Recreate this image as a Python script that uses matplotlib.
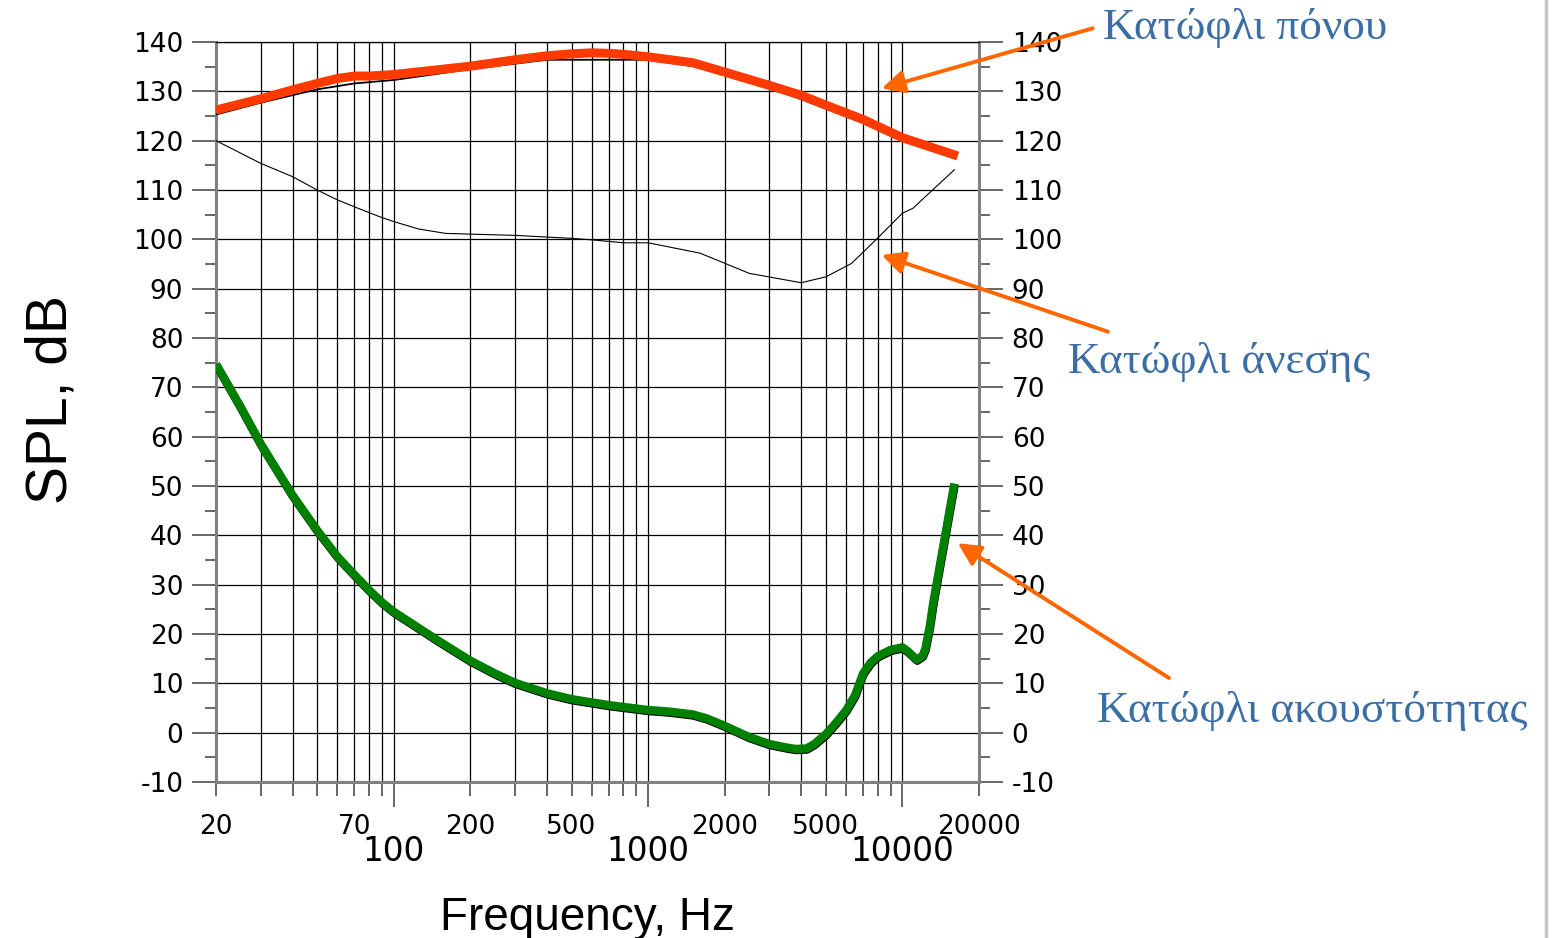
import numpy as np
import matplotlib
matplotlib.use('Agg')
import matplotlib.pyplot as plt
from matplotlib import patheffects
from matplotlib.lines import Line2D
from matplotlib.ticker import FixedLocator, FixedFormatter

plt.rcParams['axes.unicode_minus'] = False

# Pain threshold (thick red overlay and the thin black original below it)
pain_f = [20, 30, 40, 50, 60, 70, 80, 100, 200, 300, 400, 500, 600, 700,
          800, 1000, 1500, 2000, 3000, 4000, 5000, 7000, 10000, 16500]
pain_db = [126.2, 128.5, 130.3, 131.6, 132.6, 133.1, 133.1, 133.4, 135.1,
           136.4, 137.2, 137.6, 137.8, 137.7, 137.5, 137.0, 135.8, 133.9,
           131.2, 129.2, 127.2, 124.3, 120.6, 116.9]
pain_orig_f = [20, 30, 50, 70, 100, 200, 400, 1000, 1500, 2000, 3000, 4000,
               5000, 7000, 10000, 16000]
pain_orig_db = [125.3, 127.7, 130.4, 131.6, 132.3, 134.5, 136.4, 136.4,
                135.1, 133.4, 130.7, 128.4, 126.5, 123.6, 119.9, 117.0]

# Comfort threshold (thin black)
comfort_f = [20, 30, 40, 50, 60, 70, 80, 90, 100, 125, 160, 300, 500, 600,
             800, 1000, 1600, 2500, 4000, 5000, 6300, 7900, 10000, 11000, 16000]
comfort_db = [120, 115.4, 112.7, 110, 108, 106.6, 105.4, 104.4, 103.6, 102.1,
              101.2, 100.8, 100.2, 99.9, 99.3, 99.3, 97.2, 93.1, 91.2, 92.4,
              95.1, 100, 105.3, 106.3, 114.1]

# Hearing threshold (thick green)
hear_f = [20, 25, 30, 40, 50, 60, 70, 80, 90, 100, 150, 200, 250, 300, 400,
          500, 700, 1000, 1200, 1500, 1700, 2000, 2500, 3000, 3500, 3800,
          4200, 4500, 5000, 5500, 6000, 6500, 7000, 7500, 8000, 9000, 10000,
          10500, 11400, 12000, 12300, 12800, 13200, 16000]
hear_db = [74.7, 66.0, 58.5, 48.1, 41.0, 35.7, 32.0, 28.9, 26.4, 24.5, 18.6,
           14.6, 12.0, 10.1, 8.0, 6.8, 5.6, 4.6, 4.3, 3.7, 2.9, 1.4, -0.9,
           -2.3, -3.0, -3.3, -3.2, -2.3, -0.3, 2.1, 4.5, 7.5, 12.0, 14.2,
           15.5, 16.8, 17.3, 16.5, 14.8, 15.6, 17.0, 21.5, 26.2, 50.5]

major_x = [100, 1000, 10000]
minor_x = [20, 30, 40, 50, 60, 70, 80, 90, 200, 300, 400, 500, 600, 700, 800,
           900, 2000, 3000, 4000, 5000, 6000, 7000, 8000, 9000, 20000]
minor_x_shown = [20, 70, 200, 500, 2000, 5000, 20000]

labels = ['Κατώφλι πόνου', 'Κατώφλι άνεσης', 'Κατώφλι ακουστότητας']

W, H = 1554, 938
fig = plt.figure(figsize=(W / 100, H / 100), dpi=100)
ax = fig.add_axes([216 / W, 1 - 782 / H, 763 / W, 740 / H])
ax.set_xscale('log')
ax.set_xlim(20, 20000)
ax.set_ylim(-10, 140)

ax.xaxis.set_major_locator(FixedLocator(major_x))
ax.xaxis.set_major_formatter(FixedFormatter([str(v) for v in major_x]))
ax.xaxis.set_minor_locator(FixedLocator(minor_x))
ax.xaxis.set_minor_formatter(FixedFormatter(
    [str(v) if v in minor_x_shown else '' for v in minor_x]))
ax.set_yticks(np.arange(-10, 141, 10))
ax.set_yticks(np.arange(-5, 140, 10), minor=True)

ax.grid(which='both', axis='x', color='black', lw=0.9)
ax.grid(which='major', axis='y', color='black', lw=0.9)

tick_color = '#5a5a5a'
ax.tick_params(axis='x', which='major', direction='out', length=18, width=1.3,
               color=tick_color, pad=20, labelsize=23.5)
ax.tick_params(axis='x', which='minor', direction='out', length=10, width=1.3,
               color=tick_color, pad=13, labelsize=19)
ax.tick_params(axis='y', which='major', direction='out', length=17, width=1.3,
               color=tick_color, pad=6.5, labelsize=19,
               left=True, right=True, labelleft=True, labelright=True)
ax.tick_params(axis='y', which='minor', direction='out', length=8, width=1.3,
               color=tick_color, left=True, right=True)

for side in ['left', 'right', 'bottom']:
    ax.spines[side].set_color('#808080')
    ax.spines[side].set_linewidth(2.2)
ax.spines['top'].set_color('black')
ax.spines['top'].set_linewidth(0.9)

# curves
ax.plot(comfort_f, comfort_db, color='black', lw=0.8, zorder=3)
ax.plot(pain_orig_f, pain_orig_db, color='black', lw=1.3, zorder=3)
ax.plot(pain_f, pain_db, color='#ff3a00', lw=6.5, zorder=4,
        solid_capstyle='butt', solid_joinstyle='round')
ax.plot(hear_f, hear_db, color='#008000', lw=6.0, zorder=4,
        solid_capstyle='butt', solid_joinstyle='round',
        path_effects=[patheffects.Stroke(linewidth=6.0, foreground='black',
                                         offset=(0.3, -0.8)),
                      patheffects.Normal()])

# axis titles
fig.text(52 / W, 1 - 399 / H, 'SPL, dB', rotation=90, ha='center',
         va='center', fontsize=41, family='Liberation Sans')
fig.text(587 / W, 1 - 930 / H, 'Frequency, Hz', ha='center', va='baseline',
         fontsize=33, family='Liberation Sans')

# annotations
arrow = dict(arrowstyle='-|>', color='#ff6600', lw=2.8, mutation_scale=34,
             shrinkA=0, shrinkB=0)
heads = [(8290, 130.6), (8290, 96.8), (16500, 38.4)]
tails = [(1092.7, 28.3), (1108, 331.7), (1169, 678)]
for (hx, hy), (tx, ty) in zip(heads, tails):
    ax.annotate('', xy=(hx, hy), xycoords='data',
                xytext=(tx / W, 1 - ty / H), textcoords='figure fraction',
                arrowprops=arrow, annotation_clip=False, zorder=6)

text_pos = [(1103, 39), (1068, 373), (1097, 721.7)]
for lab, (tx, ty) in zip(labels, text_pos):
    fig.text(tx / W, 1 - ty / H, lab, ha='left', va='baseline', fontsize=32.5,
             color='#3b6ea5', family='Liberation Serif')

# page edge on the right
fig.add_artist(Line2D([1546 / W, 1546 / W], [0, 1], color='#c8c8c8', lw=2.5))

fig.savefig('out.png', dpi=100)
